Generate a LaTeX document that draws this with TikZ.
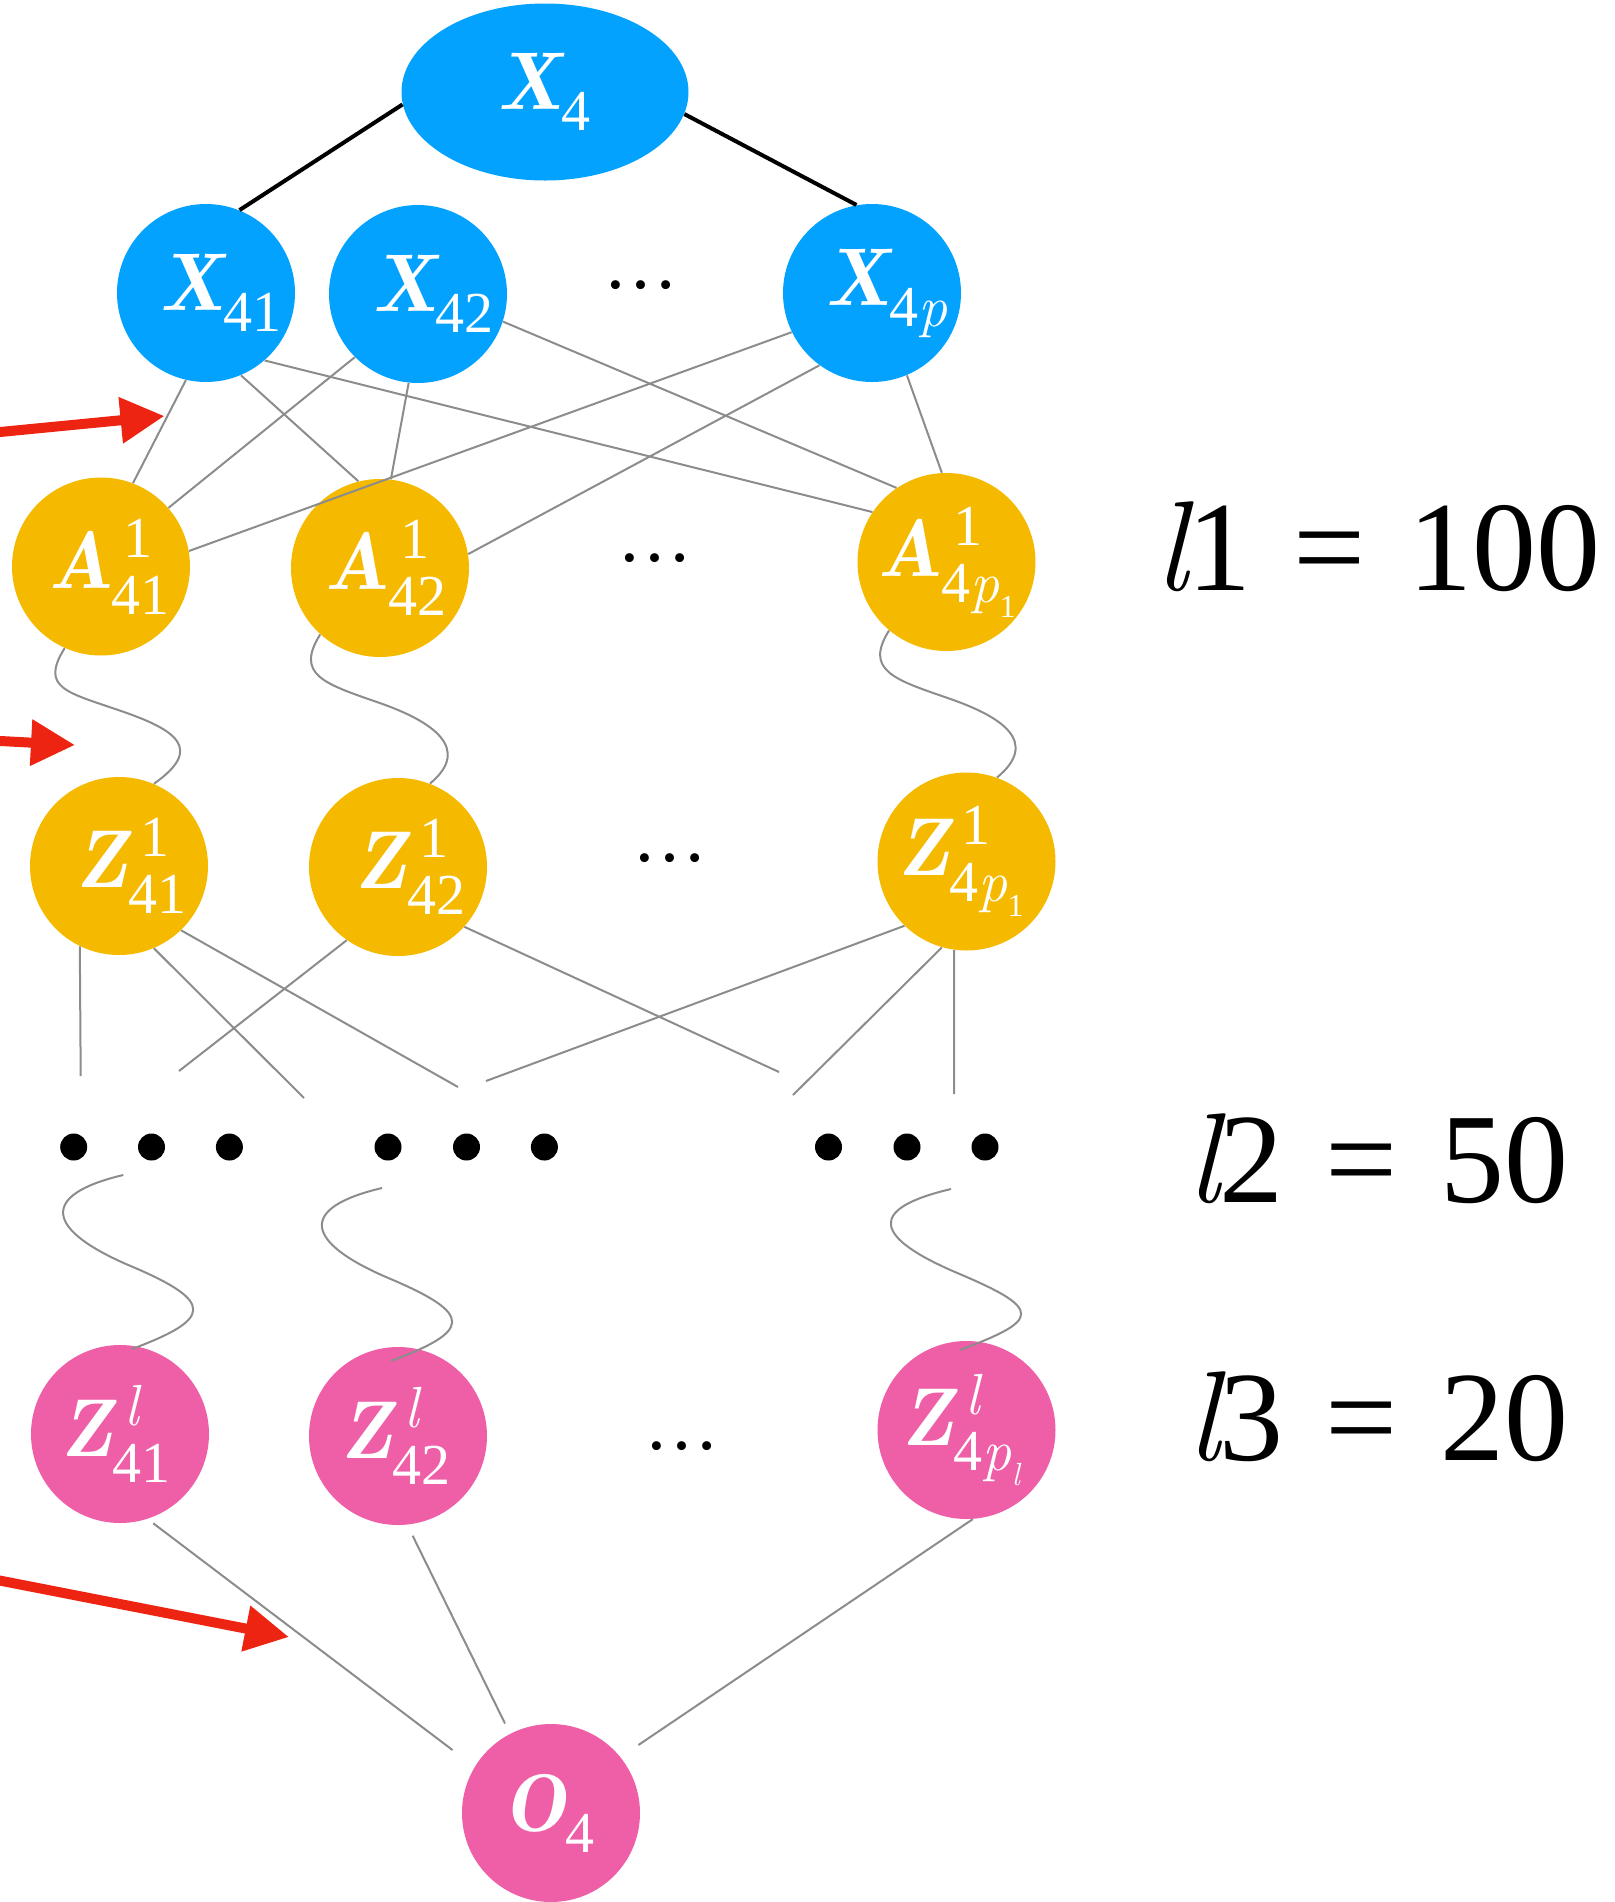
\documentclass[tikz,border=0pt]{standalone}
\usepackage{fontspec}
\setmainfont{Liberation Serif}
\usetikzlibrary{arrows.meta,calc,shapes.geometric}
\definecolor{cblue}{RGB}{4,162,255}
\definecolor{cgold}{RGB}{245,185,0}
\definecolor{cpink}{RGB}{238,95,167}
\definecolor{cred}{RGB}{238,36,18}
\definecolor{cgray}{RGB}{140,140,140}
\newcommand\mainsz{\fontsize{41pt}{46pt}\selectfont}
\newcommand\subsz{\fontsize{29pt}{32pt}\selectfont}
\newcommand\subsubsz{\fontsize{16pt}{18pt}\selectfont}
\newcommand\bi[1]{{\fontfamily{lmr}\bfseries\itshape #1}}
\newcommand\ri[1]{{\fontfamily{lmr}\mdseries\itshape #1}}
% base letter with subscript only
\newcommand\nsub[2]{\bi{#1}\raisebox{-10.5pt}{\subsz #2}}
% base letter with superscript and subscript
\newcommand\nsupsub[3]{\bi{#1}\makebox[0pt][l]{\kern6pt\raisebox{15.5pt}{\subsz #2}}\raisebox{-12.9pt}{\subsz #3}}
\newcommand\pone[1]{\ri{p}\raisebox{-7.5pt}{\subsubsz #1}}
\begin{document}
\begin{tikzpicture}[x=0.5pt,y=-0.5pt,
  nd/.style={circle,minimum size=89pt,inner sep=0pt,text=white,font=\mainsz},
  bnode/.style={nd,fill=cblue},
  gnode/.style={nd,fill=cgold},
  pnode/.style={nd,fill=cpink},
  wire/.style={cgray,line width=1pt},
  blk/.style={black,line width=2pt},
  redarrow/.style={cred,line width=5pt,-{Triangle[length=22pt,width=22pt]}},
  bigdot/.style={circle,fill=black,minimum size=13.5pt,inner sep=0pt},
  smalldots/.style={font=\fontsize{37.5pt}{40pt}\selectfont,anchor=base,inner sep=0pt},
  lbl/.style={font=\fontsize{64pt}{70pt}\selectfont,anchor=base,inner sep=0pt}]
\useasboundingbox (0,0) rectangle (1615,1902);
\clip (0,0) rectangle (1615,1902);

% nodes
\node[ellipse,fill=cblue,minimum width=143.5pt,minimum height=88.5pt,inner sep=0pt,text=white,font=\mainsz] (X4) at (545,92) {\nsub{X}{4}};
\node[bnode] (X41) at (206,293) {\kern15.5pt\nsub{X}{41}};
\node[bnode] (X42) at (418,294) {\kern16pt\nsub{X}{42}};
\node[bnode] (X4p) at (872,293) {\kern15pt\nsub{X}{4\ri{p}}};
\node[gnode] (A41) at (101,566.5) {\kern9pt\nsupsub{A}{1}{41}};
\node[gnode] (A42) at (380,568) {\kern6.5pt\nsupsub{A}{1}{42}};
\node[gnode] (A4p1) at (946.5,562) {\kern1pt\nsupsub{A}{1}{4\pone{1}}};
\node[gnode] (Z41) at (119,866) {\kern13pt\nsupsub{Z}{1}{41}};
\node[gnode] (Z42) at (398,867) {\kern13pt\nsupsub{Z}{1}{42}};
\node[gnode] (Z4p1) at (966.5,861.5) {\kern-5pt\nsupsub{Z}{1}{4\pone{1}}};
\node[pnode] (Zl41) at (120,1434) {\kern-3.5pt\nsupsub{Z}{\ri{l}}{41}};
\node[pnode] (Zl42) at (398,1436) {\kern-1.7pt\nsupsub{Z}{\ri{l}}{42}};
\node[pnode] (Zl4pl) at (966.5,1430) {\kern-4.7pt\nsupsub{Z}{\ri{l}}{4\pone{\ri{l}}}};
\node[pnode] (O4) at (551,1813) {\kern-1.6pt\nsub{O}{4}};

\node[smalldots] (dx) at (641,288) {…};
\node[smalldots] (da) at (655,561) {…};
\node[smalldots] (dz) at (670,861) {…};
\node[smalldots] (dl) at (682,1449) {…};

\foreach \i/\x in {1/73.7,2/151.5,3/229.4,4/388,5/466.5,6/544.4,7/828.5,8/907,9/985}
  \node[bigdot] (b\i) at (\x,1147) {};

\node[lbl] (L1) at (1378,590) {\ri{l}1\hspace{0.33em}=\hspace{0.33em}100};
\node[lbl] (L2) at (1378,1202) {\ri{l}2\hspace{0.33em}=\hspace{0.33em}50};
\node[lbl] (L3) at (1378,1460) {\ri{l}3\hspace{0.33em}=\hspace{0.33em}20};

% free ends
\coordinate (za) at (80.7,1076);
\coordinate (zb) at (304,1098);
\coordinate (zc) at (458,1087);
\coordinate (zd) at (179,1071);
\coordinate (ze) at (779,1072);
\coordinate (zf) at (486,1081);
\coordinate (zg) at (793,1095);
\coordinate (zh) at (954,1094);
\coordinate (wa) at (123.3,1175);
\coordinate (wb) at (382,1188);
\coordinate (wc) at (951,1189);
\coordinate (ea) at ([shift={(12,-85)}]Zl41.center);
\coordinate (eb) at ([shift={(-7,-75)}]Zl42.center);
\coordinate (ec) at ([shift={(-6.5,-80)}]Zl4pl.center);
\coordinate (oa) at (452.5,1750);
\coordinate (ob) at (505,1723.5);
\coordinate (oc) at (638.4,1745);
\coordinate (r1s) at (-5,432.5);
\coordinate (r1e) at (164.5,416);
\coordinate (r2s) at (-5,740.7);
\coordinate (r2e) at (75,745);
\coordinate (r3s) at (-5,1579.6);
\coordinate (r3e) at (289,1637);

% black edges
\draw[blk] (X4.185.2) -- (X41.68.3);
\draw[blk] (X4.-9.1) -- (X4p.100.8);

% X -> A
\draw[wire] (X41.-103) -- (A41.69.2);
\draw[wire] (X41.-67.5) -- (A42.104.9);
\draw[wire] (X41.-49.5) -- (A4p1.146.3);
\draw[wire] (X42.-135.4) -- (A41.41);
\draw[wire] (X42.-96.2) -- (A42.83.5);
\draw[wire] (X42.-18.9) -- (A4p1.124.6);
\draw[wire] (X4p.-154.9) -- (A41.10.7);
\draw[wire] (X4p.-126.6) -- (A42.9.3);
\draw[wire] (X4p.-67.7) -- (A4p1.93.8);

% A -> Z wavy
\draw[wire] (A41.-114.6) .. controls +(-25,40) and +(-55,-19) .. ($(A41.-114.6)+(57,63)$) .. controls +(55,19) and +(50,-35) .. (Z41.67);
\draw[wire] (A42.-132.6) .. controls +(-25,40) and +(-55,-19) .. ($(A42.-132.6)+(58,68)$) .. controls +(55,19) and +(42,-35) .. (Z42.69.5);
\draw[wire] (A4p1.-130.7) .. controls +(-25,40) and +(-55,-19) .. ($(A4p1.-130.7)+(60,68)$) .. controls +(55,19) and +(42,-35) .. (Z4p1.70.2);

% Z -> next layer
\draw[wire] (Z41.-116) -- (za);
\draw[wire] (Z41.-67) -- (zb);
\draw[wire] (Z41.-46) -- (zc);
\draw[wire] (Z42.-125.8) -- (zd);
\draw[wire] (Z42.-42.3) -- (ze);
\draw[wire] (Z4p1.-134) -- (zf);
\draw[wire] (Z4p1.-106.5) -- (zg);
\draw[wire] (Z4p1.-98) -- (zh);

% lower wavy
\draw[wire] (wa) .. controls +(-85,20) and +(-85,-36) .. ($(wa)!0.5!(ea)+(3,4)$) .. controls +(85,36) and +(80,-30) .. (ea);
\draw[wire] (wb) .. controls +(-85,20) and +(-85,-36) .. ($(wb)!0.5!(eb)+(3,4)$) .. controls +(85,36) and +(80,-30) .. (eb);
\draw[wire] (wc) .. controls +(-85,20) and +(-85,-36) .. ($(wc)!0.5!(ec)+(3,4)$) .. controls +(85,36) and +(80,-30) .. (ec);

% Zl -> O4
\draw[wire,shorten <=3.5pt] (Zl41.-72.6) -- (oa);
\draw[wire,shorten <=6pt] (Zl42.-84.6) -- (ob);
\draw[wire] (Zl4pl.-86.7) -- (oc);

% red arrows
\draw[redarrow] (r1s) -- (r1e);
\draw[redarrow] (r2s) -- (r2e);
\draw[redarrow] (r3s) -- (r3e);
\end{tikzpicture}
\end{document}
